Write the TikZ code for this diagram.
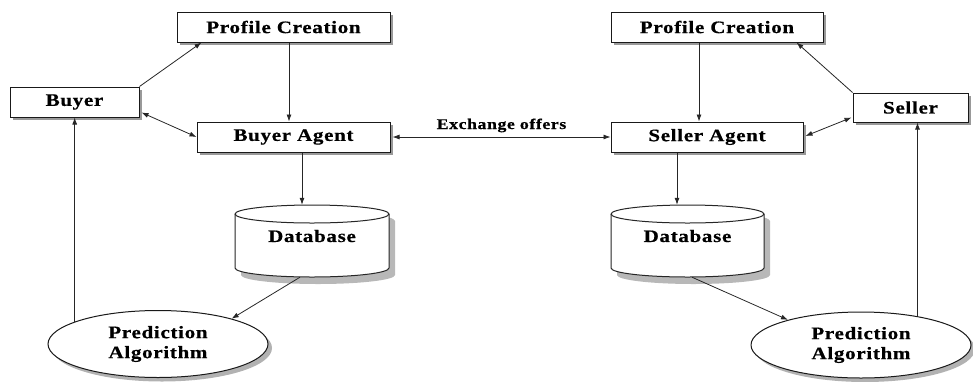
\documentclass[tikz,border=0pt]{standalone}
\usepackage{fontspec}
\newfontfamily\tnr{Liberation Serif}[FakeStretch=1.2,LetterSpace=4,BoldFeatures={FakeBold=0.6}]
\usetikzlibrary{arrows.meta,shadows,calc,shapes.geometric}
\newcommand\dbcylinder[5]{%
  \fill[black!28,shift={(6,7)}] ({#1-#4},#2) -- ({#1-#4},#3)
     arc[start angle=180,end angle=360,x radius=#4pt,y radius=#5pt]
     -- ({#1+#4},#2) arc[start angle=0,end angle=180,x radius=#4pt,y radius=#5pt] -- cycle;
  \filldraw[fill=white,draw=black!85,line width=1pt] ({#1-#4},#2) -- ({#1-#4},#3)
     arc[start angle=180,end angle=360,x radius=#4pt,y radius=#5pt]
     -- ({#1+#4},#2) arc[start angle=0,end angle=180,x radius=#4pt,y radius=#5pt] -- cycle;
  \draw[draw=black!85,line width=1pt] ({#1-#4},#2)
     arc[start angle=180,end angle=360,x radius=#4pt,y radius=#5pt];
}
\begin{document}
\begin{tikzpicture}[x=1pt,y=-1pt,
  txt/.style={font=\tnr\bfseries\fontsize{17.5}{20}\selectfont},
  box/.style={txt,draw=black!90,line width=1pt,fill=white,inner sep=0pt,
    minimum height=30pt,
    drop shadow={shadow xshift=3pt,shadow yshift=-3pt,fill=black!40,opacity=1}},
  oval/.style={txt,ellipse,draw=black!90,line width=1pt,fill=white,inner sep=0pt,
    align=center,minimum width=220pt,minimum height=67pt,
    drop shadow={shadow xshift=4pt,shadow yshift=-4pt,fill=black!30,opacity=1}},
  hold/.style={inner sep=0pt,minimum width=154pt,minimum height=72pt},
  lbl/.style={font=\tnr\bfseries\fontsize{14.8}{16}\selectfont,inner sep=0pt},
  arr/.style={-{Latex[length=7pt,width=5pt]},line width=0.8pt,draw=black!85},
  darr/.style={{Latex[length=7pt,width=5pt]}-{Latex[length=7pt,width=5pt]},line width=0.8pt,draw=black!85}
]
\useasboundingbox (0,0) rectangle (973,381);

% cylinders
\dbcylinder{312}{214}{268}{77}{9}
\dbcylinder{687.5}{214}{268}{76.5}{9}

% left side
\node[box,minimum width=213pt] (pc1) at (283.5,27) {Profile Creation};
\node[box,minimum width=193pt] (ba1) at (293.5,137) {Buyer Agent};
\node[box,minimum width=129pt] (buyer) at (74.5,102) {Buyer};
\node[hold] (db1) at (312,241) {};
\node[txt,inner sep=0pt] (db1t) at (312,236) {Database};
\node[oval] (pa1) at (158,344) {Prediction\\Algorithm};

% right side
\node[box,minimum width=212pt] (pc2) at (717,27) {Profile Creation};
\node[box,minimum width=192pt] (sa) at (707,137) {Seller Agent};
\node[box,minimum width=115pt,minimum height=29pt] (seller) at (910.5,107.5) {Seller};
\node[hold,minimum width=153pt] (db2) at (687.5,241) {};
\node[txt,inner sep=0pt] (db2t) at (687.5,236) {Database};
\node[oval,minimum height=66pt] (pa2) at (861,345) {Prediction\\Algorithm};

% left connectors
\draw[arr] ($(pc1.south)+(5.5,0)$) -- ($(ba1.north)+(-4.5,0)$);
\draw[arr] (buyer.north east) -- ($(pc1.south west)+(25,0)$);
\draw[darr] ($(buyer.south east)+(2,-5)$) -- (ba1.west);
\draw[arr] ($(ba1.south)+(8.5,0)$) -- ($(db1.north)+(-10,0)$);
\draw[arr] ($(db1.south)+(-12,0)$) -- (pa1.19);
\draw[arr] (pa1.165) -- (pa1.165 |- buyer.south);

% exchange
\draw[darr] ($(ba1.east)+(2,0)$) -- node[lbl,anchor=base,yshift=8pt] (ex) {Exchange offers} (sa.west);

% right connectors
\draw[arr] ($(pc2.south)+(-18,0)$) -- ($(sa.north)+(-8,0)$);
\draw[arr] (seller.north west) -- ($(pc2.south east)+(-27,0)$);
\draw[darr] ($(seller.south west)+(-1,-5)$) -- ($(sa.east)+(2,-1)$);
\draw[arr] ($(sa.south)+(-30,0)$) -- ($(db2.north)+(-10.5,0)$);
\draw[arr] ($(db2.south)+(4.5,0)$) -- (pa2.161);
\draw[arr] (pa2.27.5) -- (pa2.27.5 |- seller.south);
\end{tikzpicture}
\end{document}
